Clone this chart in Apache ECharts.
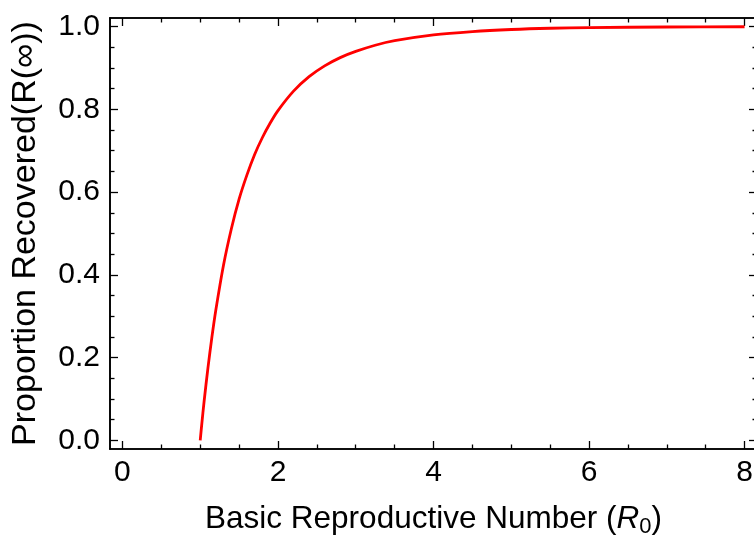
<!DOCTYPE html>
<html>
<head>
<meta charset="utf-8">
<script src="https://cdn.jsdelivr.net/npm/echarts@6/dist/echarts.min.js"></script>
<style>
html,body{margin:0;padding:0;background:#fff;}
#chart{width:754px;height:537px;}
</style>
</head>
<body>
<div id="chart"></div>
<script>
// Basic reproductive number R0 (x) and final proportion recovered R(inf) (y)
var r0Values = [1.00, 1.02, 1.05, 1.10, 1.15, 1.20, 1.30, 1.40, 1.50, 1.60, 1.70, 1.80, 1.90, 2.00,
                2.20, 2.40, 2.60, 2.80, 3.00, 3.25, 3.50, 4.00, 4.50, 5.00, 5.50, 6.00, 7.00, 8.00];
var recoveredValues = [0.000, 0.039, 0.094, 0.176, 0.249, 0.314, 0.424, 0.511, 0.583, 0.641, 0.691, 0.732, 0.767, 0.797,
                0.844, 0.879, 0.905, 0.925, 0.940, 0.955, 0.966, 0.980, 0.988, 0.993, 0.996, 0.9975, 0.9991, 0.9997];

// Tick values and labels
var xMajorTicks = [0, 2, 4, 6, 8];
var xMinorTicks = [0.5, 1, 1.5, 2.5, 3, 3.5, 4.5, 5, 5.5, 6.5, 7, 7.5];
var yMajorTicks = [0, 0.2, 0.4, 0.6, 0.8, 1.0];
var yMinorTicks = [0.05, 0.1, 0.15, 0.25, 0.3, 0.35, 0.45, 0.5, 0.55, 0.65, 0.7, 0.75, 0.85, 0.9, 0.95];
var xTickLabels = ['0', '2', '4', '6', '8'];
var yTickLabels = ['0.0', '0.2', '0.4', '0.6', '0.8', '1.0'];

var xTitle = 'Basic Reproductive Number ({i|R}{sub|0})';
var yTitle = 'Proportion Recovered(R(∞))';

var X_MIN = -0.16, X_MAX = 8.16, Y_MIN = -0.0208, Y_MAX = 1.0208;
var FONT = '"Liberation Sans", Arial, sans-serif';
var lineCol = '#000';

function xAxisDef(opts) {
  var base = {
    type: 'value', min: X_MIN, max: X_MAX,
    axisLine: { show: true, onZero: false, lineStyle: { color: lineCol, width: 1.6 } },
    splitLine: { show: false },
    axisTick: { show: true, inside: true, length: opts.len, customValues: opts.ticks, lineStyle: { color: lineCol, width: 1.3 } },
    axisLabel: { show: false }
  };
  base.position = opts.pos;
  if (opts.labels) {
    base.axisLabel = {
      show: true, customValues: xMajorTicks, margin: 9,
      fontFamily: FONT, fontSize: 30, color: '#000',
      formatter: function (v) { var i = xMajorTicks.indexOf(v); return i >= 0 ? xTickLabels[i] : ''; }
    };
  }
  if (opts.name) {
    base.name = xTitle;
    base.nameLocation = 'middle';
    base.nameGap = 51;
    base.nameTextStyle = {
      fontFamily: FONT, fontSize: 31.5, color: '#000', lineHeight: 38,
      rich: {
        i: { fontFamily: FONT, fontSize: 31.5, fontStyle: 'italic', color: '#000', lineHeight: 38 },
        sub: { fontFamily: FONT, fontSize: 22, color: '#000', lineHeight: 21, verticalAlign: 'bottom' }
      }
    };
  }
  return base;
}

function yAxisDef(opts) {
  var base = {
    type: 'value', min: Y_MIN, max: Y_MAX,
    axisLine: { show: true, onZero: false, lineStyle: { color: lineCol, width: 1.6 } },
    splitLine: { show: false },
    axisTick: { show: true, inside: true, length: opts.len, customValues: opts.ticks, lineStyle: { color: lineCol, width: 1.3 } },
    axisLabel: { show: false }
  };
  base.position = opts.pos;
  if (opts.labels) {
    base.axisLabel = {
      show: true, customValues: yMajorTicks, margin: 10,
      fontFamily: FONT, fontSize: 30, color: '#000',
      formatter: function (v) {
        for (var i = 0; i < yMajorTicks.length; i++) { if (Math.abs(yMajorTicks[i] - v) < 1e-9) return yTickLabels[i]; }
        return '';
      }
    };
  }
  if (opts.name) {
    base.name = yTitle;
    base.nameLocation = 'middle';
    base.nameGap = 67;
    base.nameRotate = 90;
    base.nameTextStyle = { fontFamily: FONT, fontSize: 34, color: '#000' };
  }
  return base;
}

var chart = echarts.init(document.getElementById('chart'), null, { renderer: 'canvas' });
chart.setOption({
  backgroundColor: '#fff',
  animation: false,
  grid: { left: 110, top: 18, width: 647, height: 431, containLabel: false, outerBoundsMode: 'none' },
  xAxis: [
    xAxisDef({ pos: 'bottom', len: 8, ticks: xMajorTicks, labels: true, name: true }),
    xAxisDef({ pos: 'bottom', len: 4.5, ticks: xMinorTicks }),
    xAxisDef({ pos: 'top', len: 8, ticks: xMajorTicks }),
    xAxisDef({ pos: 'top', len: 4.5, ticks: xMinorTicks })
  ],
  yAxis: [
    yAxisDef({ pos: 'left', len: 8, ticks: yMajorTicks, labels: true, name: true }),
    yAxisDef({ pos: 'left', len: 4.5, ticks: yMinorTicks }),
    yAxisDef({ pos: 'right', len: 8, ticks: yMajorTicks }),
    yAxisDef({ pos: 'right', len: 4.5, ticks: yMinorTicks })
  ],
  series: [{
    type: 'line',
    xAxisIndex: 0, yAxisIndex: 0,
    data: r0Values.map(function (x, i) { return [x, recoveredValues[i]]; }),
    smooth: 0.3,
    showSymbol: false,
    symbol: 'none',
    clip: true,
    lineStyle: { color: '#ff0000', width: 2.8 }
  }]
});
</script>
</body>
</html>
